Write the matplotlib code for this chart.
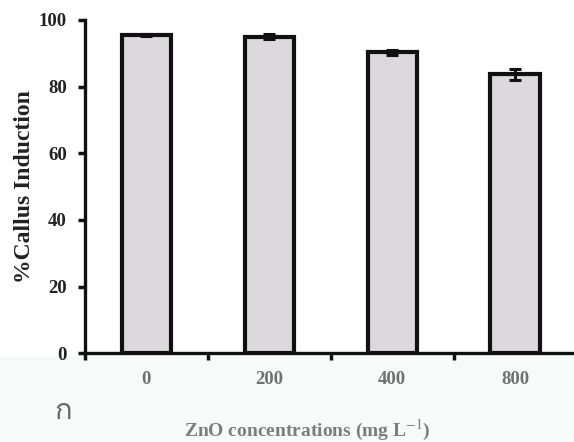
import matplotlib
matplotlib.use("Agg")
import matplotlib.pyplot as plt
from matplotlib import font_manager
from matplotlib.ft2font import FT2Font
from matplotlib.patches import Rectangle
import numpy as np

categories = ["0", "200", "400", "800"]
callus_induction = [95.5, 95.0, 90.3, 83.7]
errors = [0.4, 0.8, 0.7, 1.6]
y_ticks = [0, 20, 40, 60, 80, 100]
panel_mark = "ก"

plt.rcParams["font.family"] = ["Liberation Serif", "DejaVu Serif"]
plt.rcParams["mathtext.fontset"] = "stix"


def families_with_glyph(char):
    """Return installed font families that contain a glyph for char."""
    found = []
    for entry in font_manager.fontManager.ttflist:
        try:
            font = FT2Font(entry.fname)
            if ord(char) in font.get_charmap() and entry.name not in found:
                found.append(entry.name)
        except Exception:
            continue
    return found


mark_families = families_with_glyph(panel_mark) + ["DejaVu Sans"]

fig = plt.figure(figsize=(5.74, 4.42), dpi=100)
# faint grey paper tone below the axis
fig.patches.append(Rectangle((0, 0), 1, 1 - 357 / 442, transform=fig.transFigure,
                             facecolor="#f8f9f9", edgecolor="none", zorder=-10))
ax = fig.add_axes([0.148, 0.201, 0.852, 0.754])
ax.set_zorder(1)
ax.patch.set_alpha(0)

x = np.arange(len(categories))
ax.bar(x, callus_induction, width=0.4, color="#dcd9dc", edgecolor="#111111",
       linewidth=3.0, zorder=2)
ax.errorbar(x, callus_induction, yerr=errors, fmt="none", ecolor="#111111",
            elinewidth=2.2, capsize=4.5, capthick=2.2, zorder=3)

ax.set_xlim(-0.5, 3.48)
ax.set_ylim(0, 100)
ax.set_yticks(y_ticks)
ax.set_yticklabels([str(v) for v in y_ticks], fontsize=13.5, fontweight="bold",
                   color="#222222")
ax.set_xticks(x)
ax.set_xticklabels(categories, fontsize=13.5, fontweight="bold", color="#707070")
ax.set_xticks(np.arange(-0.5, 3.0, 1.0), minor=True)
ax.tick_params(axis="x", which="major", length=0, pad=13)
ax.tick_params(axis="x", which="minor", length=5, width=2.5, color="#111111",
               direction="out")
ax.tick_params(axis="y", length=5, width=2.5, color="#111111", direction="out",
               pad=8)

for side in ("top", "right"):
    ax.spines[side].set_visible(False)
for side in ("left", "bottom"):
    ax.spines[side].set_linewidth(2.4)
    ax.spines[side].set_color("#111111")

ax.set_ylabel("%Callus Induction", fontsize=17, fontweight="bold",
              color="#222222", labelpad=3)
fig.text(0.535, 1 - 430 / 442, "ZnO concentrations (mg L$^{-1}$)",
         fontsize=14, fontweight="bold", color="#7d7d7d", ha="center",
         va="center")
fig.text(63 / 574, 1 - 411 / 442, panel_mark, fontsize=21, color="#666666",
         ha="center", va="center", family=mark_families)

fig.savefig("out.png", dpi=100)
